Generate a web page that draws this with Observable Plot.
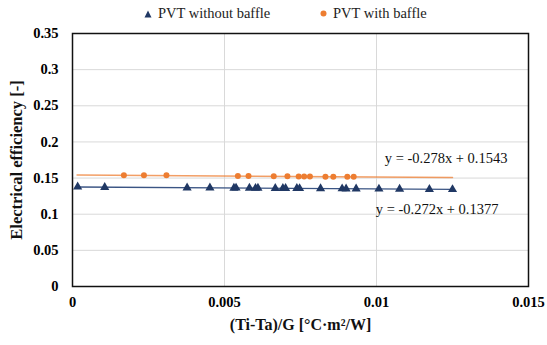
<!DOCTYPE html>
<html>
<head>
<meta charset="utf-8">
<script src="https://cdn.jsdelivr.net/npm/d3@7"></script>
<script src="https://cdn.jsdelivr.net/npm/@observablehq/plot@0.6"></script>
<style>
  html, body { margin: 0; padding: 0; background: #fff; }
  #wrap { width: 547px; height: 345px; position: relative; font-family: "Liberation Serif", "Times New Roman", serif; }
  #legend { height: 26px; font-size: 14.5px; color: #222; position: relative; }
  .item { display: flex; align-items: center; position: absolute; top: 5px; }
  .sym { margin-right: 6px; }
  #chart svg, #chart svg text { font-family: "Liberation Serif", "Times New Roman", serif !important; }
</style>
</head>
<body>
<div id="wrap">
  <div id="legend">
    <div class="item" style="left:144px"><svg class="sym" width="8" height="8"><path d="M4,0.5 L7.5,7.5 L0.5,7.5 Z" fill="#203864"/></svg>PVT without baffle</div>
    <div class="item" style="left:320px"><svg class="sym" width="7" height="7"><circle cx="3.5" cy="3.5" r="3" fill="#ed7d31"/></svg>PVT with baffle</div>
  </div>
  <div id="chart"></div>
</div>
<script>
// Data: PVT without baffle (blue triangles)
const xWithout = [0.00017, 0.00106, 0.00377, 0.00452, 0.00531, 0.00538, 0.00582, 0.00602, 0.00610, 0.00667, 0.00692, 0.00701, 0.00738, 0.00747, 0.00816, 0.00887, 0.00900, 0.00933, 0.01008, 0.01076, 0.01174, 0.01250];
const yWithout = [0.1378, 0.1373, 0.1366, 0.1365, 0.1362, 0.1363, 0.1361, 0.1360, 0.1361, 0.1359, 0.1358, 0.1359, 0.1357, 0.1356, 0.1355, 0.1353, 0.1352, 0.1352, 0.1350, 0.1348, 0.1345, 0.1343];
// Data: PVT with baffle (orange circles)
const xWith = [0.00169, 0.00235, 0.00309, 0.00544, 0.00579, 0.00662, 0.00707, 0.00744, 0.00762, 0.00781, 0.00832, 0.00858, 0.00904, 0.00925];
const yWith = [0.1540, 0.1540, 0.1538, 0.1530, 0.1527, 0.1525, 0.1524, 0.1522, 0.1523, 0.1521, 0.1520, 0.1519, 0.1518, 0.1517];
// Trendlines (Excel linear fits)
const trendSlope = [-0.272, -0.278];
const trendIntercept = [0.1377, 0.1543];
const trendLabels = ["y = -0.272x + 0.1377", "y = -0.278x + 0.1543"];
const trendRange = [0.00015, 0.0125];
// Ticks
const xTicks = [0, 0.005, 0.01, 0.015];
const yTicks = [0, 0.05, 0.1, 0.15, 0.2, 0.25, 0.3, 0.35];

const blue = "#203864", orange = "#ed7d31";
const ptsWithout = xWithout.map((x, i) => ({x, y: yWithout[i]}));
const ptsWith = xWith.map((x, i) => ({x, y: yWith[i]}));
const trend = (k) => trendRange.map(x => ({x, y: trendSlope[k] * x + trendIntercept[k]}));
const eqEnd = (k) => [{x: trendRange[1], y: trendSlope[k] * trendRange[1] + trendIntercept[k], label: trendLabels[k]}];
const fmt = d => d3.format("~g")(d);

const chart = Plot.plot({
  width: 547,
  height: 319,
  marginTop: 7,
  marginBottom: 59,
  marginLeft: 72,
  marginRight: 19,
  style: {fontFamily: "'Liberation Serif', 'Times New Roman', serif", background: "#fff", color: "#000"},
  x: {domain: [0, 0.015], ticks: xTicks, tickFormat: fmt},
  y: {domain: [0, 0.35], ticks: yTicks, tickFormat: fmt},
  marks: [
    Plot.gridX(xTicks, {stroke: "#d9d9d9", strokeOpacity: 1, strokeWidth: 1}),
    Plot.gridY(yTicks, {stroke: "#d9d9d9", strokeOpacity: 1, strokeWidth: 1}),
    Plot.line(trend(1), {x: "x", y: "y", stroke: orange, strokeOpacity: 0.75, strokeWidth: 1.5}),
    Plot.line(trend(0), {x: "x", y: "y", stroke: "#3b5584", strokeWidth: 1.3}),
    Plot.dot(ptsWith, {x: "x", y: "y", r: 3, fill: orange, stroke: "none"}),
    Plot.dot(ptsWithout, {x: "x", y: "y", r: 3.4, symbol: "triangle", fill: blue, stroke: "none"}),
    Plot.text(eqEnd(1), {x: "x", y: "y", text: "label", textAnchor: "end", dx: 55, dy: -19, fontSize: 14.5, fill: "#111"}),
    Plot.text(eqEnd(0), {x: "x", y: "y", text: "label", textAnchor: "end", dx: 46, dy: 20, fontSize: 14.5, fill: "#111"}),
    Plot.frame({stroke: "#111", strokeWidth: 1.5}),
    Plot.axisX(xTicks, {tickSize: 0, tickPadding: 10, fontSize: 14.5, fontWeight: "bold", label: null, tickFormat: fmt}),
    Plot.axisY(yTicks, {tickSize: 0, tickPadding: 14, fontSize: 14.5, fontWeight: "bold", label: null, tickFormat: fmt}),
    Plot.text(["(Ti-Ta)/G [°C·m²/W]"], {frameAnchor: "bottom", textAnchor: "middle", dy: 43, fontSize: 16, fontWeight: "bold", fill: "#111"}),
    Plot.text(["Electrical efficiency [-]"], {frameAnchor: "left", textAnchor: "middle", dx: -56, rotate: -90, fontSize: 16.5, fontWeight: "bold", fill: "#111"})
  ]
});
document.getElementById("chart").appendChild(chart);
</script>
</body>
</html>
